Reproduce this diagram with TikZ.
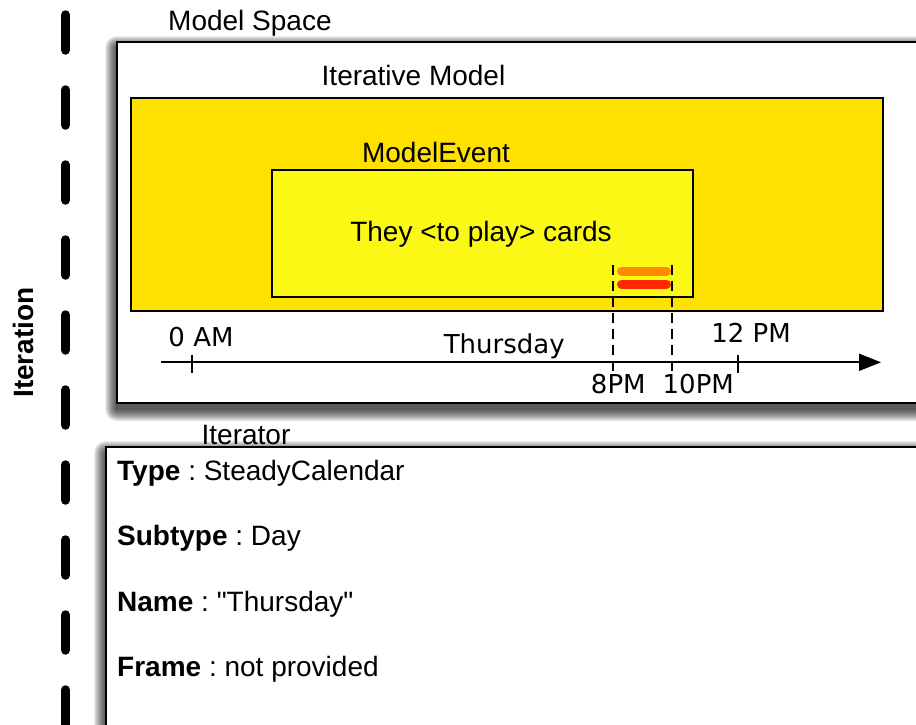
\documentclass[tikz,border=0pt]{standalone}
\usepackage{fontspec}
\setmainfont{Liberation Sans}
\newfontfamily\plainsans{Liberation Sans}
\newfontfamily\dejavu{DejaVu Sans}
\usetikzlibrary{arrows.meta}
\frenchspacing
\definecolor{goldfill}{RGB}{255,225,0}
\definecolor{eventfill}{RGB}{250,248,20}
\definecolor{barorange}{RGB}{255,140,0}
\definecolor{barred}{RGB}{255,40,0}
\tikzset{
  lbl/.style={inner sep=0pt, anchor=base, font=\fontsize{28}{32}\selectfont},
  axlbl/.style={inner sep=0pt, anchor=base, font=\dejavu\fontsize{26}{30}\selectfont},
  infoline/.style={inner sep=0pt, anchor=base west, font=\fontsize{28}{32}\selectfont},
  boxline/.style={draw=black, line width=2pt},
  guide/.style={line width=2pt, dash pattern=on 10pt off 6pt},
  bar/.style={line width=9pt, line cap=round},
}
\begin{document}
\begin{tikzpicture}[x=1pt,y=-1pt]
\useasboundingbox (0,0) rectangle (916,724);
\clip (0,0) rectangle (916,724);
\fill[white] (0,0) rectangle (916,724);

% iteration dashed line
\coordinate (itTop) at (65.5,15);
\coordinate (itBot) at (65.5,760);
\draw[line width=9.5pt, line cap=round, dash pattern=on 35pt off 40pt] (itTop) -- (itBot);
\node[lbl, rotate=90, font=\bfseries\fontsize{28}{32}\selectfont] (iteration) at (33,342.5) {Iteration};

% shadows
\foreach \i in {1,...,12} {
  \fill[black, opacity=0.08, rounded corners=\i pt] (117-\i,42+6-\i) rectangle (940+\i,403+6+\i);
  \fill[black, opacity=0.08, rounded corners=\i pt] (106-\i,447+6-\i) rectangle (940+\i,760+\i);
}

% Model space box
\draw[boxline, fill=white] (117,42) rectangle (940,403);
\node[lbl, anchor=base west] (msl) at (168,30) {Model Space};

% Iterative model
\draw[boxline, fill=goldfill] (130.7,97.7) rectangle (882.5,311);
\node[lbl] (iml) at (413.5,85) {Iterative Model};

% Model event
\draw[boxline, fill=eventfill] (271.7,170) rectangle (693,296.7);
\node[lbl] (mel) at (436,162) {ModelEvent};
\node[lbl] (mtxt) at (481,241.7) {They <to play> cards};

% bars
\coordinate (b1a) at (621.5,271);
\coordinate (b1b) at (666.5,271);
\coordinate (b2a) at (621.5,284);
\coordinate (b2b) at (666.5,284);
\draw[bar, barorange] (b1a) -- (b1b);
\draw[bar, barred] (b2a) -- (b2b);

% guides
\coordinate (g1a) at (613.3,265);
\coordinate (g1b) at (613.3,371);
\coordinate (g2a) at (672,265);
\coordinate (g2b) at (672,371);
\draw[guide] (g1a) -- (g1b);
\draw[guide] (g2a) -- (g2b);

% axis
\coordinate (axs) at (160.7,362.3);
\coordinate (axe) at (881,362.3);
\draw[line width=2pt, -{Triangle[length=22pt, width=17pt]}] (axs) -- (axe);
\coordinate (t1a) at (192,354.5);
\coordinate (t1b) at (192,373);
\coordinate (t2a) at (738,354.5);
\coordinate (t2b) at (738,373);
\draw[line width=2pt] (t1a) -- (t1b);
\draw[line width=2pt] (t2a) -- (t2b);

\node[axlbl] (l0) at (201,346) {0 AM};
\node[axlbl] (lth) at (504.2,353.3) {Thursday};
\node[axlbl] (l12) at (751,342.7) {12 PM};
\node[axlbl] (l8) at (618.3,393.3) {8PM};
\node[axlbl] (l10) at (698.3,393.3) {10PM};

% Iterator box
\draw[boxline, fill=white] (106,447) rectangle (940,760);
\node[lbl] (itl) at (246,444) {Iterator};
\node[infoline] (i1) at (117,480) {\textbf{Type} : SteadyCalendar};
\node[infoline] (i2) at (117,545.7) {\textbf{Subtype} : Day};
\node[infoline] (i3) at (117,611) {\textbf{Name} : {\plainsans "Thursday"}};
\node[infoline] (i4) at (117,676.7) {\textbf{Frame} : not provided};
\end{tikzpicture}
\end{document}
